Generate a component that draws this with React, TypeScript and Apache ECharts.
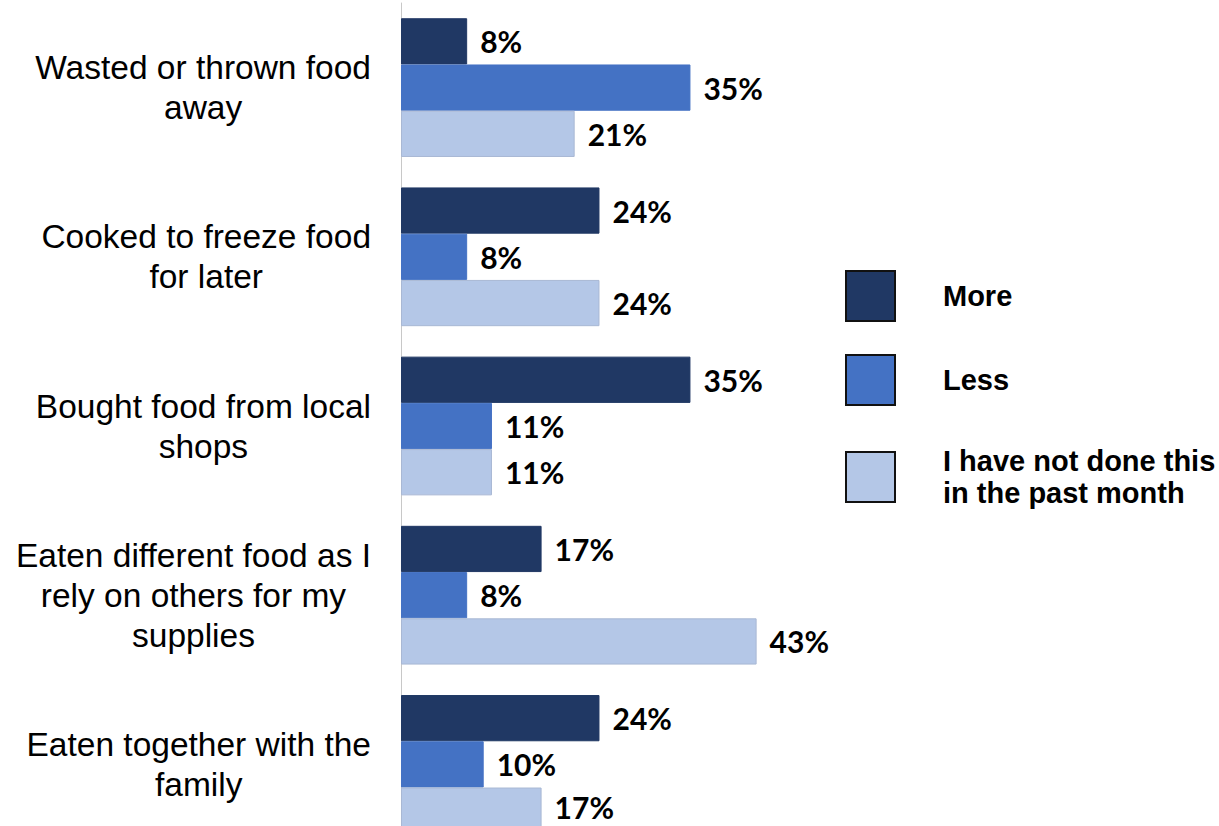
import React, { useEffect, useRef } from "react";
import * as echarts from "echarts";

const categories = [
  "Wasted or thrown food\naway",
  "Cooked to freeze food\nfor later",
  "Bought food from local\nshops",
  "Eaten different food as I\nrely on others for my\nsupplies",
  "Eaten together with the\nfamily",
];
const seriesNames = ["More", "Less", "I have not done this\nin the past month"];
const moreValues = [8, 24, 35, 17, 24];
const lessValues = [35, 8, 11, 8, 10];
const notDoneValues = [21, 24, 11, 43, 17];
const colors = ["#203864", "#4472C4", "#B4C7E7"];

export default function App() {
  const ref = useRef<HTMLDivElement>(null);
  useEffect(() => {
    document.body.style.margin = "0";
    const chart = echarts.init(ref.current!, null, { renderer: "svg" });
    const values = [moreValues, lessValues, notDoneValues];
    const legendTops = [270, 354, 445];
    const labelStyle = {
      show: true,
      position: "right" as const,
      distance: 13,
      formatter: "{c}%",
      fontFamily: "Lato",
      fontWeight: "bold" as const,
      fontSize: 30,
      lineHeight: 26,
      color: "#000",
    };
    chart.setOption({
      animation: false,
      grid: { left: 401, top: 3, width: 413.5, height: 846 },
      xAxis: {
        type: "value",
        min: 0,
        max: 50,
        show: false,
      },
      yAxis: {
        type: "category",
        data: categories,
        inverse: true,
        axisLine: { show: true, lineStyle: { color: "#c8c8c8", width: 1 } },
        axisTick: { show: false },
        axisLabel: {
          margin: 30,
          formatter: (v: string) =>
            v
              .split("\n")
              .map((l) => "{a|" + l + "}")
              .join("\n"),
          rich: {
            a: {
              align: "center",
              fontFamily: "Liberation Sans",
              fontSize: 33.5,
              lineHeight: 40,
              color: "#000",
            },
          },
        },
      },
      legend: seriesNames.map((n, i) => ({
        data: [n],
        orient: "vertical",
        left: 845,
        top: legendTops[i],
        padding: 0,
        icon: "rect",
        itemWidth: 49,
        itemHeight: 50,
        selectedMode: false,
        itemStyle: { borderColor: "#111", borderWidth: 2 },
        textStyle: {
          fontFamily: "Liberation Sans",
          fontWeight: "bold",
          fontSize: 29,
          lineHeight: 32,
          color: "#000",
          padding: [0, 0, 0, 43],
        },
      })),
      series: seriesNames.map((n, i) => ({
        name: n,
        type: "bar",
        data: values[i].map((v, j) =>
          i === 2 && j === values[i].length - 1
            ? { value: v, label: { offset: [0, -4] } }
            : v
        ),
        barGap: "0%",
        barCategoryGap: "18%",
        itemStyle: { color: colors[i], borderColor: i === 2 ? "#a9b8d4" : colors[i], borderWidth: 1 },
        label: labelStyle,
      })),
    });
    return () => chart.dispose();
  }, []);
  return (
    <div style={{ width: 1219, height: 826, overflow: "hidden" }}>
      <div ref={ref} style={{ width: 1219, height: 860 }} />
    </div>
  );
}
